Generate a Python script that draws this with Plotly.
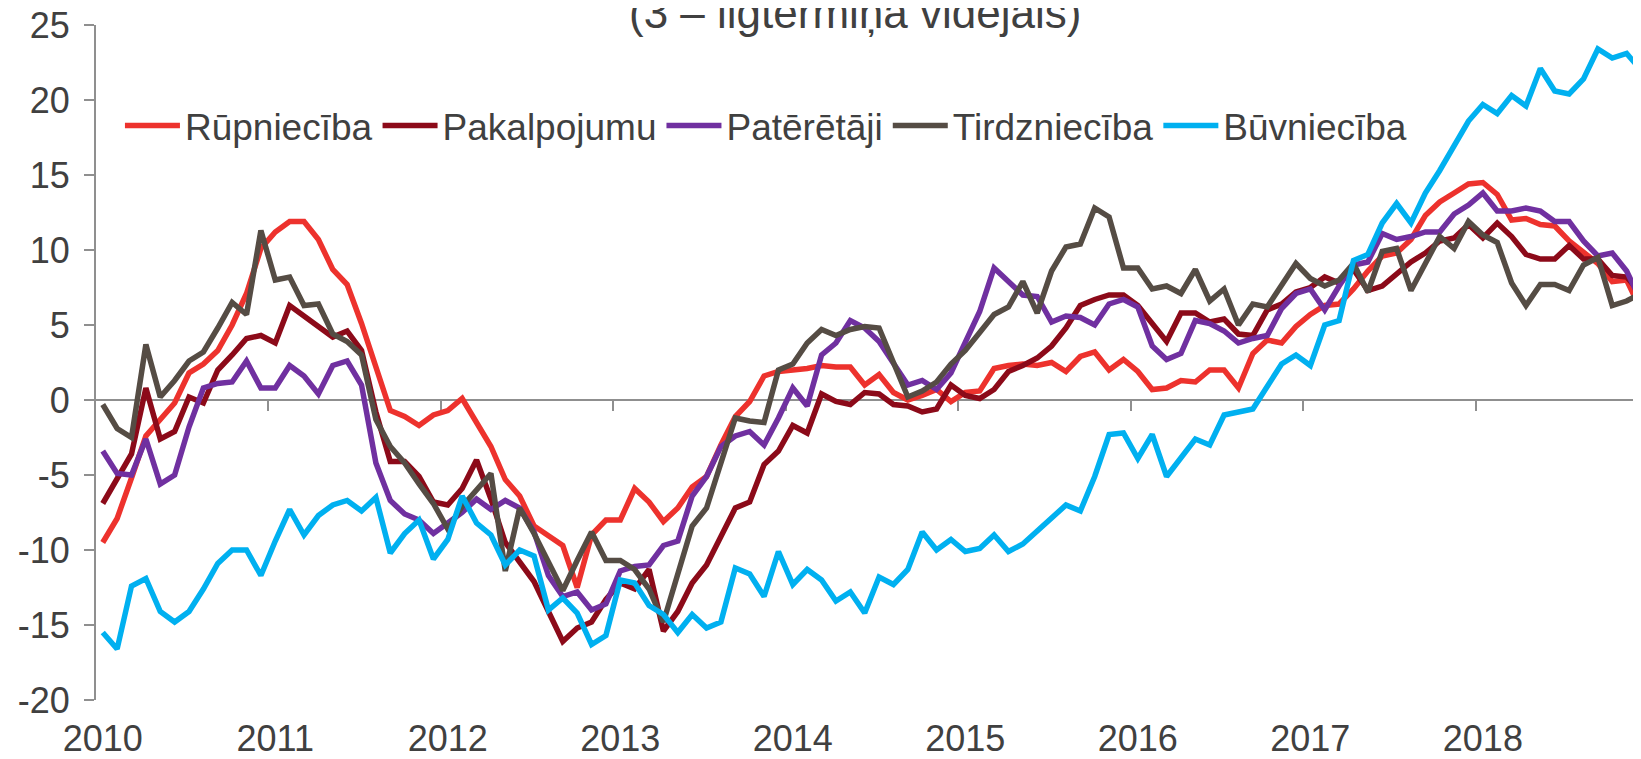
import plotly.graph_objects as go

# ---- data (monthly, Jan 2010 .. Dec 2018) ----
years = ["2010", "2011", "2012", "2013", "2014", "2015", "2016", "2017", "2018"]
y_ticks = [-20, -15, -10, -5, 0, 5, 10, 15, 20, 25]
y_tick_labels = ["-20", "-15", "-10", "-5", "0", "5", "10", "15", "20", "25"]

rupnieciba = [
    -9.5, -7.9, -5.2, -2.4, -1.3, -0.2, 1.8, 2.4, 3.3, 5.0, 7.1, 10.1,
    11.2, 11.9, 11.9, 10.7, 8.7, 7.7, 5.1, 2.2, -0.7, -1.1, -1.7, -1.0,
    -0.7, 0.1, -1.5, -3.1, -5.3, -6.4, -8.4, -9.1, -9.7, -12.5, -9.0, -8.0,
    -8.0, -5.9, -6.8, -8.1, -7.2, -5.8, -5.1, -3.0, -1.1, -0.1, 1.6, 1.9,
    2.0, 2.1, 2.3, 2.2, 2.2, 1.0, 1.7, 0.5, 0.0, 0.3, 0.7, -0.1,
    0.5, 0.6, 2.1, 2.3, 2.4, 2.3, 2.5, 1.9, 2.9, 3.2, 2.0, 2.7,
    1.9, 0.7, 0.8, 1.3, 1.2, 2.0, 2.0, 0.8, 3.1, 4.0, 3.8, 4.9,
    5.7, 6.3, 6.4, 7.4, 8.6, 9.6, 9.8, 10.7, 12.3, 13.2, 13.8, 14.4,
    14.5, 13.7, 12.0, 12.1, 11.7, 11.6, 10.6, 9.9, 9.1, 7.9, 8.0, 6.0,
]
pakalpojumu = [
    -6.9, -5.3, -3.6, 0.8, -2.6, -2.1, 0.2, -0.2, 2.0, 3.0, 4.1, 4.3,
    3.8, 6.3, 5.6, 4.9, 4.2, 4.6, 3.3, -0.8, -4.1, -4.1, -5.1, -6.8,
    -7.0, -5.9, -4.0, -6.6, -9.5, -10.8, -12.1, -14.1, -16.1, -15.2, -14.8, -13.3,
    -12.2, -12.6, -11.3, -15.4, -14.1, -12.2, -11.0, -9.1, -7.2, -6.8, -4.3, -3.4,
    -1.7, -2.2, 0.4, -0.1, -0.3, 0.5, 0.4, -0.3, -0.4, -0.8, -0.6, 1.0,
    0.3, 0.1, 0.7, 1.9, 2.3, 2.8, 3.6, 4.8, 6.3, 6.7, 7.0, 7.0,
    6.3, 5.1, 3.9, 5.8, 5.8, 5.2, 5.4, 4.4, 4.3, 6.0, 6.4, 7.2,
    7.5, 8.2, 7.8, 8.7, 7.3, 7.6, 8.4, 9.2, 9.8, 10.6, 10.8, 11.7,
    10.8, 11.8, 10.9, 9.7, 9.4, 9.4, 10.3, 9.4, 9.4, 8.3, 8.2, 7.1,
]
pateretaji = [
    -3.4, -4.9, -5.0, -2.6, -5.6, -5.0, -1.8, 0.8, 1.1, 1.2, 2.6, 0.8,
    0.8, 2.3, 1.6, 0.4, 2.3, 2.6, 1.0, -4.2, -6.7, -7.6, -8.0, -8.9,
    -8.2, -7.5, -6.6, -7.3, -6.7, -7.2, -8.8, -11.7, -13.1, -12.8, -14.0, -13.6,
    -11.4, -11.1, -11.0, -9.7, -9.4, -6.4, -5.1, -3.1, -2.4, -2.1, -3.0, -1.2,
    0.8, -0.4, 3.0, 3.8, 5.3, 4.8, 3.9, 2.5, 1.0, 1.3, 0.7, 1.8,
    3.8, 5.9, 8.8, 7.9, 7.0, 6.9, 5.2, 5.6, 5.5, 5.0, 6.4, 6.7,
    6.2, 3.6, 2.7, 3.1, 5.3, 5.1, 4.6, 3.8, 4.1, 4.3, 6.1, 7.1,
    7.4, 6.0, 7.6, 9.0, 9.2, 11.1, 10.7, 10.9, 11.2, 11.2, 12.4, 13.0,
    13.8, 12.6, 12.6, 12.8, 12.6, 11.9, 11.9, 10.6, 9.6, 9.8, 8.6, 6.6,
]
tirdznieciba = [
    -0.3, -1.9, -2.5, 3.7, 0.2, 1.3, 2.6, 3.2, 4.8, 6.5, 5.7, 11.3,
    8.0, 8.2, 6.3, 6.4, 4.4, 3.9, 3.0, -1.3, -3.1, -4.2, -5.6, -6.9,
    -8.6, -7.1, -6.0, -4.9, -11.4, -7.2, -8.9, -10.8, -12.7, -10.7, -8.8, -10.7,
    -10.7, -11.3, -12.6, -14.8, -11.7, -8.4, -7.2, -4.2, -1.2, -1.4, -1.5, 2.0,
    2.4, 3.8, 4.7, 4.3, 4.7, 4.9, 4.8, 2.5, 0.2, 0.6, 1.2, 2.4,
    3.3, 4.5, 5.7, 6.2, 7.9, 5.8, 8.6, 10.2, 10.4, 12.8, 12.2, 8.8,
    8.8, 7.4, 7.6, 7.1, 8.7, 6.6, 7.4, 5.0, 6.4, 6.2, 7.7, 9.1,
    8.1, 7.6, 8.0, 9.1, 7.2, 9.9, 10.1, 7.3, 9.1, 10.9, 10.1, 11.9,
    11.0, 10.5, 7.8, 6.3, 7.7, 7.7, 7.3, 9.0, 9.5, 6.3, 6.6, 7.1,
]
buvnieciba = [
    -15.5, -16.6, -12.4, -11.9, -14.1, -14.8, -14.1, -12.6, -10.9, -10.0, -10.0, -11.7,
    -9.4, -7.3, -9.0, -7.7, -7.0, -6.7, -7.4, -6.5, -10.2, -8.9, -8.0, -10.6,
    -9.3, -6.4, -8.2, -9.0, -11.0, -10.0, -10.4, -14.0, -13.2, -14.2, -16.3, -15.7,
    -12.0, -12.2, -13.7, -14.3, -15.5, -14.3, -15.2, -14.8, -11.2, -11.6, -13.1, -10.1,
    -12.3, -11.3, -12.0, -13.4, -12.8, -14.2, -11.8, -12.3, -11.3, -8.8, -10.0, -9.3,
    -10.1, -9.9, -9.0, -10.1, -9.6, -8.7, -7.8, -7.0, -7.4, -5.1, -2.3, -2.2,
    -3.9, -2.3, -5.1, -3.9, -2.6, -3.0, -1.0, -0.8, -0.6, 0.9, 2.4, 3.0,
    2.3, 5.0, 5.3, 9.3, 9.7, 11.8, 13.1, 11.8, 13.8, 15.3, 17.0, 18.6,
    19.7, 19.1, 20.3, 19.6, 22.1, 20.6, 20.4, 21.4, 23.4, 22.8, 23.1, 22.0,
]

series_names = ["Rūpniecība", "Pakalpojumu", "Patērētāji", "Tirdzniecība", "Būvniecība"]
series_values = [rupnieciba, pakalpojumu, pateretaji, tirdznieciba, buvnieciba]
series_colors = ["#ED322D", "#8C0A19", "#7030A0", "#554C44", "#00B0F0"]

title_text = "(3 – ilgtermiņa vidējais)"

# ---- figure ----
n = len(rupnieciba)
x = list(range(n))
year_pos = [12 * i for i in range(len(years))]
year_bounds = [12 * i - 0.5 for i in range(1, len(years) + 1)]

AXIS = "#8F8F8F"
TXT = "#404040"
FONT = "Liberation Sans, Arial, sans-serif"
XR = [-0.47, 107.0]

fig = go.Figure()
for name, vals, col in zip(series_names, series_values, series_colors):
    fig.add_trace(go.Scatter(
        x=x, y=vals, name=name, mode="lines",
        line=dict(color=col, width=5.5),
        hoverinfo="skip",
    ))
# empty helper trace so the year-boundary tick axis (x2) is drawn
fig.add_trace(go.Scatter(x=[], y=[], xaxis="x2", yaxis="y", showlegend=False,
                         hoverinfo="skip", mode="lines"))

# the page body adds an 8px margin, so the figure is 8px smaller than the window
fig.update_layout(
    width=1633, height=751,
    margin=dict(l=88, r=0, t=17, b=59, autoexpand=False),
    paper_bgcolor="white", plot_bgcolor="white",
    font=dict(family=FONT, size=36, color=TXT),
    showlegend=True,
    legend=dict(
        orientation="h", x=0.0155, y=0.8504, xanchor="left", yanchor="middle",
        bgcolor="rgba(0,0,0,0)", font=dict(family=FONT, size=37, color=TXT),
        itemwidth=55, tracegroupgap=0,
    ),
    xaxis=dict(
        range=XR, tickmode="array", tickvals=year_pos, ticktext=years,
        showline=False, showgrid=False, zeroline=False, ticks="",
        tickfont=dict(family=FONT, size=36, color=TXT),
        ticklabelstandoff=14, automargin=False, ticklabeloverflow="allow",
    ),
    xaxis2=dict(
        overlaying="x", anchor="free", position=20 / 45, range=XR,
        tickmode="array", tickvals=year_bounds, ticks="outside", ticklen=10,
        tickwidth=2, tickcolor=AXIS, showticklabels=False, showgrid=False,
        zeroline=False, showline=False, layer="below traces", automargin=False,
    ),
    yaxis=dict(
        range=[-20, 25], tickmode="array", tickvals=y_ticks, ticktext=y_tick_labels,
        showline=True, linecolor=AXIS, linewidth=2,
        ticks="outside", ticklen=10, tickwidth=2, tickcolor=AXIS,
        showgrid=False, zeroline=True, zerolinecolor=AXIS, zerolinewidth=2,
        tickfont=dict(family=FONT, size=36, color=TXT),
        ticklabelstandoff=7, automargin=False, ticklabeloverflow="allow",
    ),
    annotations=[dict(
        text=title_text, xref="paper", yref="paper", x=0.4913, y=(700 - 39) / 675,
        xanchor="center", yanchor="bottom", showarrow=False,
        font=dict(family=FONT, size=44, color=TXT),
    )],
)

fig.write_html("out.html")
